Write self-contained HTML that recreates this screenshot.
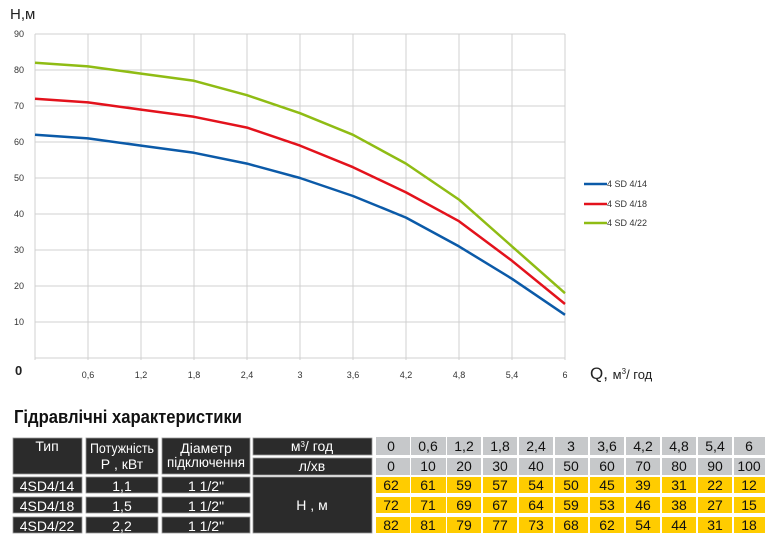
<!DOCTYPE html>
<html><head><meta charset="utf-8"><style>html,body{margin:0;padding:0;background:#fff}svg{display:block}</style></head><body>
<svg width="779" height="548" xmlns="http://www.w3.org/2000/svg" font-family="Liberation Sans, sans-serif">
<rect width="779" height="548" fill="#fff"/>
<g stroke="#d0d0d0" stroke-width="1">
<line x1="35" y1="34" x2="565" y2="34"/><line x1="35" y1="70" x2="565" y2="70"/><line x1="35" y1="106" x2="565" y2="106"/><line x1="35" y1="142" x2="565" y2="142"/><line x1="35" y1="178" x2="565" y2="178"/><line x1="35" y1="214" x2="565" y2="214"/><line x1="35" y1="250" x2="565" y2="250"/><line x1="35" y1="286" x2="565" y2="286"/><line x1="35" y1="322" x2="565" y2="322"/><line x1="35" y1="358" x2="565" y2="358"/>
<line x1="35" y1="34" x2="35" y2="360"/><line x1="88" y1="34" x2="88" y2="360"/><line x1="141" y1="34" x2="141" y2="360"/><line x1="194" y1="34" x2="194" y2="360"/><line x1="247" y1="34" x2="247" y2="360"/><line x1="300" y1="34" x2="300" y2="360"/><line x1="353" y1="34" x2="353" y2="360"/><line x1="406" y1="34" x2="406" y2="360"/><line x1="459" y1="34" x2="459" y2="360"/><line x1="512" y1="34" x2="512" y2="360"/><line x1="565" y1="34" x2="565" y2="360"/>
</g>
<g font-size="9" fill="#333" text-anchor="end">
<text x="24" y="37">90</text><text x="24" y="73">80</text><text x="24" y="109">70</text><text x="24" y="145">60</text><text x="24" y="181">50</text><text x="24" y="217">40</text><text x="24" y="253">30</text><text x="24" y="289">20</text><text x="24" y="325">10</text>
</g>
<text x="15" y="375" font-size="13" font-weight="bold" fill="#222">0</text>
<g font-size="9" fill="#333" text-anchor="middle">
<text x="88" y="378">0,6</text><text x="141" y="378">1,2</text><text x="194" y="378">1,8</text><text x="247" y="378">2,4</text><text x="300" y="378">3</text><text x="353" y="378">3,6</text><text x="406" y="378">4,2</text><text x="459" y="378">4,8</text><text x="512" y="378">5,4</text><text x="565" y="378">6</text>
</g>
<text x="10" y="19" font-size="15" fill="#222">Н,м</text>
<text x="590" y="379" font-size="17" fill="#222">Q,  <tspan font-size="13">м<tspan dy="-5" font-size="8">3</tspan><tspan dy="5">/ год</tspan></tspan></text>
<g fill="none" stroke-width="2.5" stroke-linejoin="round">
<polyline stroke="#0b5aa8" points="35,134.8 88,138.4 141,145.6 194,152.8 247,163.6 300,178 353,196 406,217.6 459,246.4 512,278.8 565,314.8"/>
<polyline stroke="#e3121c" points="35,98.8 88,102.4 141,109.6 194,116.8 247,127.6 300,145.6 353,167.2 406,192.4 459,221.2 512,260.8 565,304"/>
<polyline stroke="#8fbc14" points="35,62.8 88,66.4 141,73.6 194,80.8 247,95.2 300,113.2 353,134.8 406,163.6 459,199.6 512,246.4 565,293.2"/>
</g>
<g font-size="9" fill="#333">
<line x1="584" y1="184" x2="607" y2="184" stroke="#0b5aa8" stroke-width="2.5"/><text x="607" y="187">4 SD 4/14</text>
<line x1="584" y1="204" x2="607" y2="204" stroke="#e3121c" stroke-width="2.5"/><text x="607" y="207">4 SD 4/18</text>
<line x1="584" y1="223" x2="607" y2="223" stroke="#8fbc14" stroke-width="2.5"/><text x="607" y="226">4 SD 4/22</text>
</g>
<text x="14" y="423" font-size="18" font-weight="bold" fill="#111" textLength="228" lengthAdjust="spacingAndGlyphs">Гідравлічні характеристики</text>
<g fill="#2b2b2b" stroke="#999" stroke-width="0.8">
<rect x="13" y="438" width="69" height="36"/><rect x="86" y="438" width="72" height="36"/><rect x="162" y="438" width="88" height="36"/>
<rect x="253" y="438" width="119" height="17"/><rect x="253" y="458" width="119" height="17"/>
<rect x="13" y="477" width="69" height="16"/><rect x="86" y="477" width="72" height="16"/><rect x="162" y="477" width="88" height="16"/>
<rect x="13" y="497" width="69" height="16"/><rect x="86" y="497" width="72" height="16"/><rect x="162" y="497" width="88" height="16"/>
<rect x="13" y="517" width="69" height="16"/><rect x="86" y="517" width="72" height="16"/><rect x="162" y="517" width="88" height="16"/>
<rect x="253" y="477" width="119" height="56"/>
</g>
<g fill="#fff" font-size="14" text-anchor="middle" font-family="Liberation Sans Narrow, Liberation Sans, sans-serif">
<text x="47" y="451">Тип</text>
<text x="122" y="453" textLength="64" lengthAdjust="spacingAndGlyphs">Потужність</text><text x="122" y="469">Р , кВт</text>
<text x="206" y="453">Діаметр</text><text x="206" y="467" textLength="78" lengthAdjust="spacingAndGlyphs">підключення</text>
<text x="312" y="451">м<tspan dy="-4" font-size="8">3</tspan><tspan dy="4">/ год</tspan></text><text x="312" y="471">л/хв</text>
<text x="47" y="491">4SD4/14</text><text x="122" y="491">1,1</text><text x="206" y="491">1 1/2"</text>
<text x="47" y="511">4SD4/18</text><text x="122" y="511">1,5</text><text x="206" y="511">1 1/2"</text>
<text x="47" y="531">4SD4/22</text><text x="122" y="531">2,2</text><text x="206" y="531">1 1/2"</text>
<text x="312" y="510">Н , м</text>
</g>
<g font-size="14" text-anchor="middle" fill="#111" font-family="Liberation Sans Narrow, Liberation Sans, sans-serif">
<g fill="#c6c8ca">
<rect x="376" y="437" width="34" height="18"/><rect x="411" y="437" width="35" height="18"/><rect x="447" y="437" width="34" height="18"/><rect x="483" y="437" width="34" height="18"/><rect x="519" y="437" width="34" height="18"/><rect x="555" y="437" width="33" height="18"/><rect x="590" y="437" width="34" height="18"/><rect x="626" y="437" width="34" height="18"/><rect x="662" y="437" width="34" height="18"/><rect x="698" y="437" width="34" height="18"/><rect x="734" y="437" width="31" height="18"/>
<rect x="376" y="458" width="34" height="17"/><rect x="411" y="458" width="35" height="17"/><rect x="447" y="458" width="34" height="17"/><rect x="483" y="458" width="34" height="17"/><rect x="519" y="458" width="34" height="17"/><rect x="555" y="458" width="33" height="17"/><rect x="590" y="458" width="34" height="17"/><rect x="626" y="458" width="34" height="17"/><rect x="662" y="458" width="34" height="17"/><rect x="698" y="458" width="34" height="17"/><rect x="734" y="458" width="31" height="17"/>
</g>
<g fill="#ffcc00">
<rect x="376" y="477" width="34" height="16"/><rect x="411" y="477" width="35" height="16"/><rect x="447" y="477" width="34" height="16"/><rect x="483" y="477" width="34" height="16"/><rect x="519" y="477" width="34" height="16"/><rect x="555" y="477" width="33" height="16"/><rect x="590" y="477" width="34" height="16"/><rect x="626" y="477" width="34" height="16"/><rect x="662" y="477" width="34" height="16"/><rect x="698" y="477" width="34" height="16"/><rect x="734" y="477" width="31" height="16"/>
<rect x="376" y="497" width="34" height="16"/><rect x="411" y="497" width="35" height="16"/><rect x="447" y="497" width="34" height="16"/><rect x="483" y="497" width="34" height="16"/><rect x="519" y="497" width="34" height="16"/><rect x="555" y="497" width="33" height="16"/><rect x="590" y="497" width="34" height="16"/><rect x="626" y="497" width="34" height="16"/><rect x="662" y="497" width="34" height="16"/><rect x="698" y="497" width="34" height="16"/><rect x="734" y="497" width="31" height="16"/>
<rect x="376" y="517" width="34" height="16"/><rect x="411" y="517" width="35" height="16"/><rect x="447" y="517" width="34" height="16"/><rect x="483" y="517" width="34" height="16"/><rect x="519" y="517" width="34" height="16"/><rect x="555" y="517" width="33" height="16"/><rect x="590" y="517" width="34" height="16"/><rect x="626" y="517" width="34" height="16"/><rect x="662" y="517" width="34" height="16"/><rect x="698" y="517" width="34" height="16"/><rect x="734" y="517" width="31" height="16"/>
</g>
<text x="391" y="451">0</text><text x="428" y="451">0,6</text><text x="464" y="451">1,2</text><text x="500" y="451">1,8</text><text x="536" y="451">2,4</text><text x="571" y="451">3</text><text x="607" y="451">3,6</text><text x="643" y="451">4,2</text><text x="679" y="451">4,8</text><text x="715" y="451">5,4</text><text x="749" y="451">6</text>
<text x="391" y="471">0</text><text x="428" y="471">10</text><text x="464" y="471">20</text><text x="500" y="471">30</text><text x="536" y="471">40</text><text x="571" y="471">50</text><text x="607" y="471">60</text><text x="643" y="471">70</text><text x="679" y="471">80</text><text x="715" y="471">90</text><text x="749" y="471">100</text>
<text x="391" y="490">62</text><text x="428" y="490">61</text><text x="464" y="490">59</text><text x="500" y="490">57</text><text x="536" y="490">54</text><text x="571" y="490">50</text><text x="607" y="490">45</text><text x="643" y="490">39</text><text x="679" y="490">31</text><text x="715" y="490">22</text><text x="749" y="490">12</text>
<text x="391" y="510">72</text><text x="428" y="510">71</text><text x="464" y="510">69</text><text x="500" y="510">67</text><text x="536" y="510">64</text><text x="571" y="510">59</text><text x="607" y="510">53</text><text x="643" y="510">46</text><text x="679" y="510">38</text><text x="715" y="510">27</text><text x="749" y="510">15</text>
<text x="391" y="530">82</text><text x="428" y="530">81</text><text x="464" y="530">79</text><text x="500" y="530">77</text><text x="536" y="530">73</text><text x="571" y="530">68</text><text x="607" y="530">62</text><text x="643" y="530">54</text><text x="679" y="530">44</text><text x="715" y="530">31</text><text x="749" y="530">18</text>
</g>
</svg>
</body></html>
